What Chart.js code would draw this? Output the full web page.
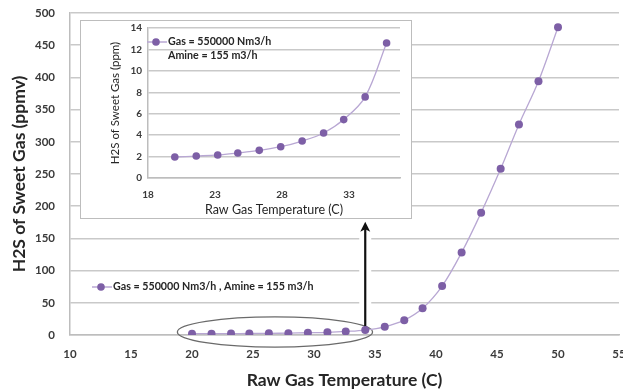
<!DOCTYPE html>
<html><head><meta charset="utf-8">
<script src="https://cdn.jsdelivr.net/npm/chart.js@4/dist/chart.umd.min.js"></script>
<style>
html,body{margin:0;padding:0;background:#fff;overflow:hidden;}
#wrap{position:relative;width:623px;height:392px;}
#main{position:absolute;left:0;top:0;}
#insetBox{position:absolute;left:80px;top:20px;width:330px;height:197px;border:1px solid #bdbdbd;background:#fff;}
#inset{display:block;}
</style></head><body>
<div id="wrap">
<canvas id="main" width="623" height="392"></canvas>
<div id="insetBox"><canvas id="inset" width="330" height="197"></canvas></div>
</div>
<script>
// ---- data ----
const temperatures = [20, 21.6, 23.2, 24.7, 26.3, 27.9, 29.5, 31.1, 32.6, 34.2, 35.8, 37.4, 38.9, 40.5, 42.1, 43.7, 45.3, 46.8, 48.4, 50];
const h2sMain = [2.0, 2.1, 2.2, 2.3, 2.6, 2.9, 3.5, 4.2, 5.5, 7.7, 12.8, 23, 41.5, 76, 128, 190, 258, 327, 394, 478];
const insetTemperatures = [20, 21.6, 23.2, 24.7, 26.3, 27.9, 29.5, 31.1, 32.6, 34.2, 35.8];
const h2sInset = [1.96, 2.05, 2.15, 2.34, 2.58, 2.92, 3.45, 4.2, 5.45, 7.57, 12.6];
const insetXTicks = [18, 23, 28, 33];
const mainLegendLabel = 'Gas = 550000 Nm3/h , Amine = 155 m3/h';
const insetLegendLines = ['Gas = 550000 Nm3/h', 'Amine = 155 m3/h'];

const POINT = '#7d5fa6', LINE = '#b8a7d3', GRID = '#c9c9c9', AXIS = '#bdbdbd', TICK = '#3a3a3a', TITLE = '#262626';
const F = 'Lato';

function toXY(xs, ys){ return xs.map((x,i)=>({x:x, y:ys[i]})); }

// annotations on main chart (ellipse + arrow), in data coordinates
const annotPlugin = {
  id:'annot',
  beforeDatasetsDraw(chart){
    const {ctx, scales:{x, y}} = chart;
    const cx = x.getPixelForValue(26.8), cy = y.getPixelForValue(4.7);
    const rx = x.getPixelForValue(26.8+8.0) - cx, ry = cy - y.getPixelForValue(4.7+23.4);
    ctx.save();
    ctx.beginPath(); ctx.ellipse(cx, cy, rx, ry, 0, 0, Math.PI*2);
    ctx.strokeStyle = '#6a6a6a'; ctx.lineWidth = 1.3; ctx.stroke();
    const ax = x.getPixelForValue(34.2);
    const yTop = y.getPixelForValue(176), yBot = y.getPixelForValue(12);
    ctx.strokeStyle = '#ffffff'; ctx.lineWidth = 12;
    ctx.beginPath(); ctx.moveTo(ax, y.getPixelForValue(40)); ctx.lineTo(ax, yTop+6); ctx.stroke();
    ctx.strokeStyle = '#111'; ctx.lineWidth = 2.2;
    ctx.beginPath(); ctx.moveTo(ax, yBot); ctx.lineTo(ax, yTop+6); ctx.stroke();
    ctx.fillStyle = '#111';
    ctx.beginPath(); ctx.moveTo(ax, yTop); ctx.lineTo(ax-5, yTop+10); ctx.lineTo(ax, yTop+7.5); ctx.lineTo(ax+5, yTop+10); ctx.closePath(); ctx.fill();
    ctx.restore();
  }
};

function legendPlugin(id, lines, lx, ly, lineGap, fontSize){
  return {
    id: id,
    afterDraw(chart){
      const ctx = chart.ctx;
      ctx.save();
      ctx.strokeStyle = LINE; ctx.lineWidth = 1.5;
      ctx.beginPath(); ctx.moveTo(lx, ly); ctx.lineTo(lx+20, ly); ctx.stroke();
      ctx.fillStyle = POINT;
      ctx.beginPath(); ctx.arc(lx+9, ly, 3.8, 0, Math.PI*2); ctx.fill();
      ctx.fillStyle = TITLE;
      ctx.font = 'bold ' + fontSize + 'px ' + F;
      ctx.textBaseline = 'middle'; ctx.textAlign = 'left';
      lines.forEach((t,i)=> ctx.fillText(t, lx+21, ly + i*lineGap));
      ctx.restore();
    }
  };
}

const ds = (data, r) => ({
  label: mainLegendLabel,
  data: data,
  borderColor: LINE, borderWidth: 1.3,
  backgroundColor: POINT,
  pointBackgroundColor: POINT, pointBorderColor: POINT, pointBorderWidth: 0,
  pointRadius: r, tension: 0.35, fill: false
});

new Chart(document.getElementById('main'), {
  type: 'line',
  data: { datasets: [ ds(toXY(temperatures, h2sMain), 4) ] },
  options: {
    responsive: false, animation: false,
    layout: { padding: { top: 13, right: 3, left: 0, bottom: 0 } },
    plugins: { legend: { display: false }, tooltip: { enabled: false } },
    scales: {
      x: {
        type: 'linear', min: 10, max: 55,
        ticks: { stepSize: 5, padding: 12, maxRotation: 0, autoSkip: false, color: TICK, font: { family: F, size: 11.5, weight: 'bold' } },
        grid: { display: false, drawTicks: false },
        border: { display: true, color: AXIS, width: 1.5 },
        title: { display: true, text: 'Raw Gas Temperature (C)', color: TITLE, font: { family: F, size: 17.5, weight: 'bold' }, padding: { top: 0, bottom: 1 } },
        afterFit(s){ s.height = 57; s.paddingLeft = 0; s.paddingRight = 0; }
      },
      y: {
        min: 0, max: 500,
        ticks: { stepSize: 50, padding: 15, color: TICK, font: { family: F, size: 11.5, weight: 'bold' } },
        grid: { color: GRID, lineWidth: 1.5, drawTicks: false },
        border: { display: true, color: AXIS, width: 1.5 },
        title: { display: true, text: 'H2S of Sweet Gas (ppmv)', color: TITLE, font: { family: F, size: 17.5, weight: 'bold' }, padding: { top: 9, bottom: 0 } },
        afterFit(s){ s.width = 70; s.paddingTop = 0; s.paddingBottom = 0; }
      }
    }
  },
  plugins: [annotPlugin, legendPlugin('mainLegend', [mainLegendLabel], 92, 287, 0, 10.7)]
});

new Chart(document.getElementById('inset'), {
  type: 'line',
  data: { datasets: [ ds(toXY(insetTemperatures, h2sInset), 3.8) ] },
  options: {
    responsive: false, animation: false,
    layout: { padding: { top: 7, right: 11, left: 0, bottom: 0 } },
    plugins: { legend: { display: false }, tooltip: { enabled: false } },
    scales: {
      x: {
        type: 'linear', min: 18, max: 36.8,
        afterBuildTicks(s){ s.ticks = insetXTicks.map(v => ({ value: v })); },
        ticks: { padding: 11, maxRotation: 0, autoSkip: false, color: TICK, font: { family: F, size: 10, weight: 'bold' } },
        grid: { display: false, drawTicks: false },
        border: { display: true, color: AXIS, width: 1.5 },
        title: { display: true, text: 'Raw Gas Temperature (C)', color: TITLE, font: { family: F, size: 12.5 }, padding: { top: 0, bottom: 1 } },
        afterFit(s){ s.height = 40; s.paddingLeft = 0; s.paddingRight = 0; }
      },
      y: {
        min: 0, max: 14,
        ticks: { stepSize: 2, padding: 6, color: TICK, font: { family: F, size: 10, weight: 'bold' } },
        grid: { color: GRID, lineWidth: 1.5, drawTicks: false },
        border: { display: true, color: AXIS, width: 1.5 },
        title: { display: true, text: 'H2S of Sweet Gas (ppm)', color: TITLE, font: { family: F, size: 11.5 }, padding: { top: 27, bottom: 0 } },
        afterFit(s){ s.width = 67; s.paddingTop = 0; s.paddingBottom = 0; }
      }
    }
  },
  plugins: [legendPlugin('insetLegend', insetLegendLines, 66, 21, 13.5, 10.7)]
});
</script>
</body></html>
